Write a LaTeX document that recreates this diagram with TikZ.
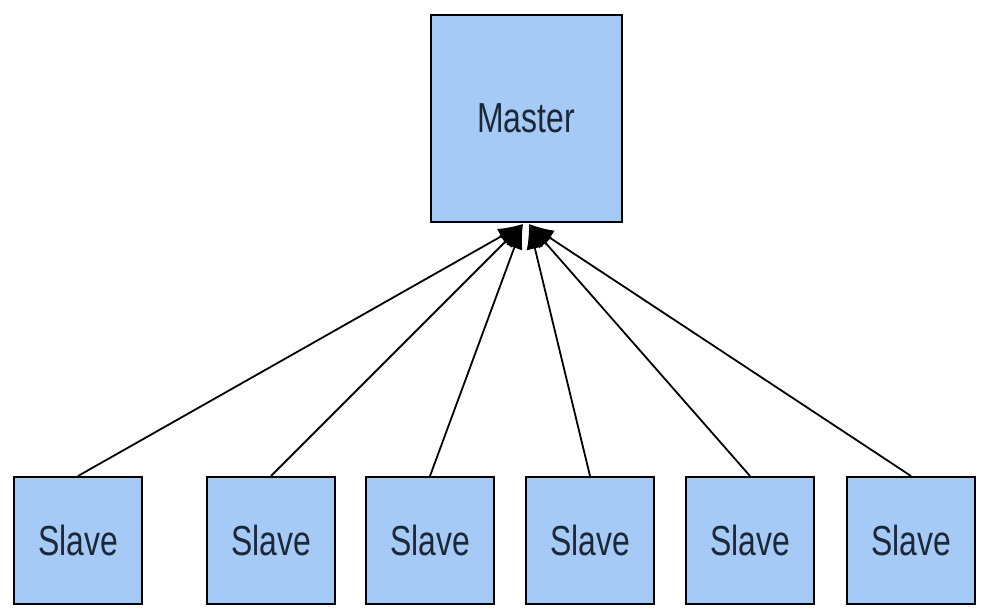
\documentclass[tikz,border=0pt]{standalone}
\usepackage{fontspec}
\newfontfamily\labfont[FakeStretch=0.76]{Liberation Sans}
\usetikzlibrary{arrows.meta}
\definecolor{boxfill}{HTML}{A6CAF6}
\definecolor{txt}{HTML}{1C2838}
\begin{document}
\begin{tikzpicture}[x=1pt,y=-1pt,
  mbox/.style={draw=black,line width=2pt,fill=boxfill,inner sep=0pt,
    font=\labfont\fontsize{42}{48}\selectfont,text=txt},
  link/.style={line width=1.8pt,-{Latex[length=25pt,width=17pt]}}]
\useasboundingbox (0,0) rectangle (986,612);
\node[mbox,minimum width=191pt,minimum height=207pt] (m) at (526,118.5) {Master};
\foreach \i/\x in {1/78,2/271,3/430,4/590,5/750,6/911}{
  \node[mbox,minimum width=128pt,minimum height=127pt] (s\i) at (\x,540.5) {Slave};
}
\coordinate (tl) at (523,224);
\coordinate (tr) at (529,224);
\foreach \i in {1,2,3}{
  \draw[link] (s\i.north) -- (tl);
}
\foreach \i in {4,5,6}{
  \draw[link] (s\i.north) -- (tr);
}
\end{tikzpicture}
\end{document}
